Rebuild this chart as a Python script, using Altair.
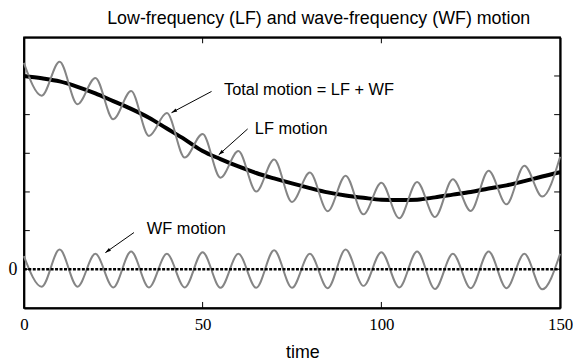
import altair as alt
import pandas as pd

# ---- data ----
T = list(range(0, 151, 5))
LF = [5.00, 4.94, 4.86, 4.72, 4.55, 4.35, 4.15, 3.92, 3.64, 3.36, 3.06, 2.85, 2.66,
      2.49, 2.35, 2.22, 2.10, 1.99, 1.91, 1.85, 1.80, 1.79, 1.80, 1.86, 1.93, 2.00,
      2.09, 2.17, 2.28, 2.40, 2.51]
WF = [0.34, -0.45, 0.51, -0.45, 0.40, -0.47, 0.46, -0.47, 0.40, -0.47, 0.44, -0.48,
      0.40, -0.48, 0.49, -0.48, 0.40, -0.49, 0.51, -0.43, 0.44, -0.47, 0.46, -0.51,
      0.40, -0.49, 0.46, -0.49, 0.40, -0.52, 0.40]

X_LABELS = [0, 50, 100, 150]
Y_LABELS = [0]
Y_TICKS = [0, 1, 2, 3, 4, 5]
X_TICKS = [50, 100]

ANN_TEXT = ["Total motion = LF + WF", "LF motion", "WF motion"]
ANN_X = [56.0, 64.6, 34.4]
ANN_Y = [4.63, 3.64, 1.04]
ARR_X1 = [52.5, 62.6, 30.8]
ARR_Y1 = [4.60, 3.63, 0.95]
ARR_X2 = [41.3, 54.5, 22.8]
ARR_Y2 = [4.05, 2.96, 0.43]
ARR_ANGLE = [241, 228, 234]

W, H = 541, 273
SERIF = "Liberation Serif, Times New Roman, serif"

df = pd.DataFrame({"t": T, "LF": LF, "WF": WF})
df["Total"] = df["LF"] + df["WF"]

xs = alt.Scale(domain=[0, 150], nice=False, zero=False)
ys = alt.Scale(domain=[-1, 6], nice=False, zero=False)

# axes: the domain lines of all four axes form the box around the plot
xaxis = alt.Axis(values=X_LABELS, labelFont=SERIF, labelFontSize=17,
                 labelColor="black", labelPadding=9, labelFlush=False, ticks=False,
                 tickSize=0, domain=True, domainColor="black", domainWidth=2,
                 grid=False, title="time",
                 titleFont="Liberation Sans", titleFontSize=18, titleFontWeight="normal",
                 titleColor="black", titleX=281, titleY=45, titleBaseline="middle",
                 titleAlign="center")
yaxis = alt.Axis(values=Y_LABELS, labelFont=SERIF, labelFontSize=18,
                 labelColor="black", labelPadding=7, ticks=False, tickSize=0,
                 domain=True, domainColor="black", domainWidth=2,
                 grid=False, title=None)
xaxis_top = alt.Axis(orient="top", labels=False, ticks=False, tickSize=0, domain=True,
                     domainColor="black", domainWidth=2, grid=False, title=None)
yaxis_right = alt.Axis(orient="right", labels=False, ticks=False, tickSize=0, domain=True,
                       domainColor="black", domainWidth=2, grid=False, title=None)

base = alt.Chart(df)

lf = base.mark_line(color="black", strokeWidth=4, interpolate="monotone").encode(
    x=alt.X("t:Q", scale=xs, axis=xaxis),
    y=alt.Y("LF:Q", scale=ys, axis=yaxis))
total = base.mark_line(color="#858585", strokeWidth=2, interpolate="monotone").encode(
    x=alt.X("t:Q", scale=xs, axis=None), y=alt.Y("Total:Q", scale=ys, axis=None))
wf = base.mark_line(color="#858585", strokeWidth=2, interpolate="monotone").encode(
    x=alt.X("t:Q", scale=xs, axis=None), y=alt.Y("WF:Q", scale=ys, axis=None))

zero = alt.Chart(pd.DataFrame({"y": [0]})).mark_rule(
    color="black", strokeWidth=2.5, strokeDash=[3, 1.5]).encode(
    y=alt.Y("y:Q", scale=ys, axis=None), x=alt.value(0), x2=alt.value(W))

ytk = pd.DataFrame({"y": Y_TICKS})
xtk = pd.DataFrame({"x": X_TICKS})
lt = alt.Chart(ytk).mark_rule(color="black", strokeWidth=1).encode(
    y=alt.Y("y:Q", scale=ys, axis=None), x=alt.value(0), x2=alt.value(6))
rt = alt.Chart(ytk).mark_rule(color="black", strokeWidth=1).encode(
    y=alt.Y("y:Q", scale=ys, axis=yaxis_right), x=alt.value(W - 6), x2=alt.value(W))
tt = alt.Chart(xtk).mark_rule(color="black", strokeWidth=1).encode(
    x=alt.X("x:Q", scale=xs, axis=xaxis_top), y=alt.value(0), y2=alt.value(6))
bt = alt.Chart(xtk).mark_rule(color="black", strokeWidth=1).encode(
    x=alt.X("x:Q", scale=xs, axis=None), y=alt.value(H - 6), y2=alt.value(H))

ann = pd.DataFrame({"text": ANN_TEXT, "x": ANN_X, "y": ANN_Y})
texts = alt.Chart(ann).mark_text(align="left", baseline="middle", font="Liberation Sans",
                                 fontSize=16.5, color="black").encode(
    x=alt.X("x:Q", scale=xs, axis=None), y=alt.Y("y:Q", scale=ys, axis=None),
    text="text:N")

arr = pd.DataFrame({"x1": ARR_X1, "y1": ARR_Y1, "x2": ARR_X2, "y2": ARR_Y2,
                    "angle": ARR_ANGLE})
shafts = alt.Chart(arr).mark_rule(color="black", strokeWidth=1).encode(
    x=alt.X("x1:Q", scale=xs, axis=None), y=alt.Y("y1:Q", scale=ys, axis=None),
    x2="x2:Q", y2="y2:Q")
heads = alt.Chart(arr).mark_point(shape="M0,0L0.5,1.6L-0.5,1.6Z", filled=True,
                                  color="black", size=50, opacity=1).encode(
    x=alt.X("x2:Q", scale=xs, axis=None), y=alt.Y("y2:Q", scale=ys, axis=None),
    angle=alt.Angle("angle:Q", scale=None))

chart = alt.layer(lf, total, wf, zero, lt, rt, tt, bt,
                  shafts, heads, texts).resolve_axis(x="independent", y="independent").properties(
    width=W, height=H, padding=0,
    title=alt.TitleParams("Low-frequency (LF) and wave-frequency (WF) motion",
                          font="Liberation Sans", fontSize=18, fontWeight="normal",
                          color="black", anchor="middle", dx=27, offset=9)
).configure(background="white", view=alt.ViewConfig(stroke="black", strokeWidth=1.5))

chart.save("out.html", embed_options={"renderer": "svg", "actions": False})
